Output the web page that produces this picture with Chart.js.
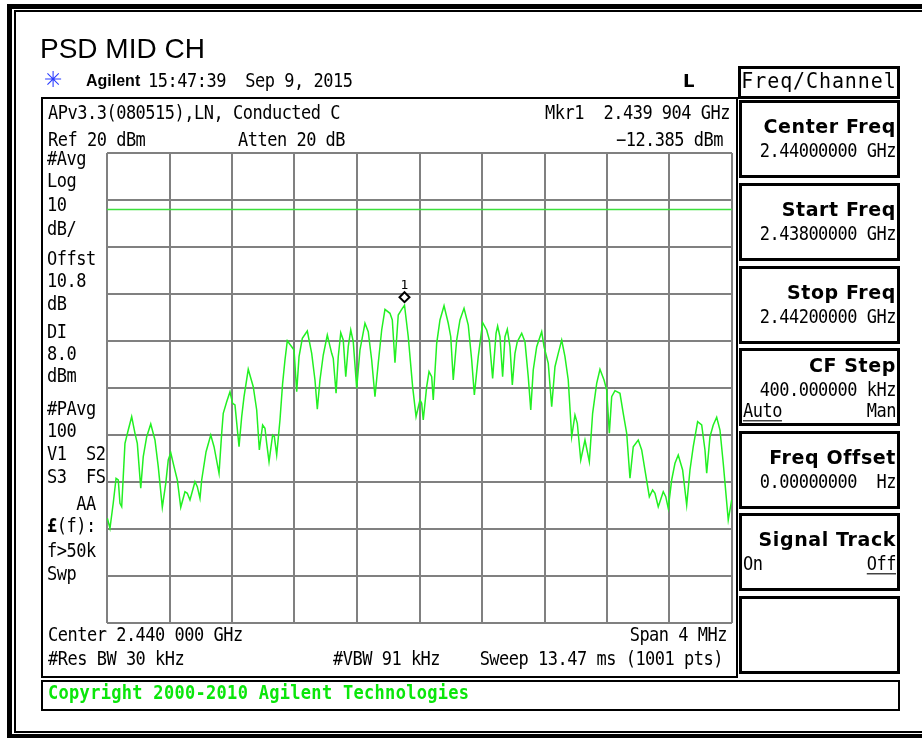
<!DOCTYPE html>
<html>
<head>
<meta charset="utf-8">
<script src="https://cdn.jsdelivr.net/npm/chart.js@4.4.0/dist/chart.umd.min.js"></script>
<style>
  body { margin: 0; width: 922px; height: 738px; background: #fff; overflow: hidden; position: relative; }
  .bar { position: absolute; background: #000; }
  .box { position: absolute; box-sizing: border-box; border: 2px solid #000; }
  .key { border-width: 3px; }
  .t { position: absolute; white-space: pre; line-height: 1; }
  .mono { font-family: "DejaVu Sans Mono", monospace; font-size: 17px; letter-spacing: -0.5px;
          transform: scaleY(1.1); transform-origin: 0 14.4px; }
  .kt { font-family: "DejaVu Sans", sans-serif; font-weight: bold; font-size: 19px; letter-spacing: 0.6px; }
  #c { position: absolute; left: 0; top: 0; }
</style>
</head>
<body>
<div class="bar" style="left:7px;top:4px;width:915px;height:5px"></div>
<div class="bar" style="left:7px;top:4px;width:5px;height:734px"></div>
<div class="bar" style="left:7px;top:734px;width:915px;height:4px"></div>
<div class="bar" style="left:14px;top:10px;width:908px;height:2px"></div>
<div class="bar" style="left:14px;top:10px;width:2px;height:721px"></div>
<div class="bar" style="left:14px;top:731px;width:908px;height:2px"></div>

<div class="box" style="left:41px;top:97px;width:697px;height:581px"></div>
<div class="box" style="left:41px;top:680px;width:859px;height:31px"></div>
<div class="box key" style="left:738px;top:66px;width:162px;height:33px"></div>
<div id="keys"></div>

<canvas id="c" width="922" height="738"></canvas>
<div id="labels"></div>

<script>
// trace: frequency (MHz) and level (dBm)
const freqMHz = [2438.002, 2438.019, 2438.040, 2438.058, 2438.072, 2438.083, 2438.094, 2438.104, 2438.115, 2438.136,
  2438.158, 2438.179, 2438.194, 2438.216, 2438.232, 2438.254, 2438.280, 2438.307, 2438.328, 2438.354,
  2438.376, 2438.392, 2438.408, 2438.429, 2438.450, 2438.472, 2438.499, 2438.514, 2438.531, 2438.563,
  2438.578, 2438.595, 2438.606, 2438.634, 2438.664, 2438.685, 2438.717, 2438.734, 2438.744, 2438.766,
  2438.787, 2438.804, 2438.819, 2438.845, 2438.862, 2438.877, 2438.904, 2438.936, 2438.958, 2438.975,
  2438.996, 2439.011, 2439.022, 2439.037, 2439.060, 2439.071, 2439.086, 2439.107, 2439.124, 2439.139,
  2439.154, 2439.182, 2439.197, 2439.214, 2439.229, 2439.250, 2439.282, 2439.310, 2439.331, 2439.346,
  2439.363, 2439.384, 2439.410, 2439.438, 2439.448, 2439.466, 2439.480, 2439.496, 2439.512, 2439.528,
  2439.544, 2439.560, 2439.576, 2439.598, 2439.619, 2439.651, 2439.672, 2439.694, 2439.715, 2439.736,
  2439.758, 2439.779, 2439.811, 2439.826, 2439.843, 2439.864, 2439.886, 2439.904, 2439.928, 2439.956,
  2439.978, 2440.003, 2440.014, 2440.024, 2440.046, 2440.061, 2440.078, 2440.088, 2440.110, 2440.131,
  2440.157, 2440.184, 2440.200, 2440.216, 2440.238, 2440.259, 2440.285, 2440.312, 2440.334, 2440.351,
  2440.376, 2440.404, 2440.430, 2440.447, 2440.468, 2440.490, 2440.500, 2440.515, 2440.532, 2440.547,
  2440.562, 2440.579, 2440.594, 2440.611, 2440.626, 2440.654, 2440.675, 2440.696, 2440.712, 2440.728,
  2440.750, 2440.782, 2440.797, 2440.824, 2440.846, 2440.867, 2440.888, 2440.910, 2440.931, 2440.952,
  2440.974, 2440.995, 2441.010, 2441.032, 2441.059, 2441.087, 2441.108, 2441.134, 2441.155, 2441.181,
  2441.198, 2441.215, 2441.230, 2441.251, 2441.283, 2441.304, 2441.326, 2441.347, 2441.368, 2441.400,
  2441.422, 2441.443, 2441.471, 2441.492, 2441.507, 2441.528, 2441.560, 2441.576, 2441.592, 2441.614,
  2441.635, 2441.656, 2441.684, 2441.710, 2441.731, 2441.752, 2441.780, 2441.806, 2441.827, 2441.838,
  2441.859, 2441.880, 2441.902, 2441.923, 2441.944, 2441.976, 2441.998];
const levelDbm = [-57.72, -59.85, -54.47, -49.21, -49.57, -54.53, -55.26, -48.87, -41.77, -38.94,
  -36.11, -39.64, -41.77, -51.34, -44.62, -40.36, -37.66, -41.06, -46.74, -55.38,
  -50.28, -45.32, -43.77, -46.74, -49.57, -55.38, -52.06, -52.40, -53.83, -49.94,
  -51.00, -53.47, -49.57, -43.55, -40.00, -42.49, -48.15, -39.64, -35.38, -32.91,
  -30.79, -33.26, -33.62, -42.49, -36.11, -31.85, -26.02, -29.72, -34.68, -43.19,
  -37.87, -38.57, -41.77, -45.68, -40.00, -40.36, -44.26, -36.81, -29.00, -24.04,
  -19.94, -21.21, -21.91, -30.79, -23.34, -19.43, -17.87, -22.62, -28.30, -34.53,
  -28.30, -22.98, -18.72, -22.62, -23.68, -31.13, -23.34, -18.23, -19.79, -27.60,
  -21.21, -17.66, -20.15, -30.06, -21.91, -16.23, -18.02, -24.04, -31.85, -24.74,
  -17.66, -13.26, -14.11, -15.53, -24.62, -14.47, -13.26, -12.39, -19.09, -29.72,
  -36.11, -32.55, -33.26, -36.81, -29.72, -26.53, -27.60, -32.55, -20.49, -15.53,
  -12.50, -16.23, -19.09, -28.30, -19.79, -15.53, -13.04, -16.60, -24.04, -31.49,
  -23.34, -16.11, -17.66, -19.79, -27.94, -18.36, -16.81, -19.09, -27.60, -19.09,
  -17.51, -21.21, -29.36, -22.62, -20.15, -18.36, -20.15, -27.60, -34.68, -26.17,
  -21.21, -18.02, -21.21, -24.74, -33.98, -25.47, -22.62, -19.79, -23.34, -28.30,
  -40.36, -35.74, -37.51, -45.32, -41.06, -45.68, -35.38, -29.00, -26.02, -28.30,
  -30.43, -39.64, -31.85, -30.57, -31.13, -35.38, -39.64, -49.21, -42.49, -41.06,
  -43.19, -47.45, -53.13, -51.70, -52.40, -55.26, -52.06, -53.13, -55.60, -49.57,
  -46.02, -44.26, -47.45, -54.89, -47.45, -42.49, -37.17, -37.87, -43.19, -48.15,
  -40.36, -37.87, -36.23, -38.94, -46.02, -58.09, -53.83];

const xTicks = [2438, 2438.4, 2438.8, 2439.2, 2439.6, 2440, 2440.4, 2440.8, 2441.2, 2441.6, 2442];
const yTicks = [20, 10, 0, -10, -20, -30, -40, -50, -60, -70, -80];
const displayLine = 8.0;
const markerFreq = 2439.904;
const markerLevel = -12.385;

const MONO = '"DejaVu Sans Mono", monospace';

function txt(str, x, base, opt = {}) {
  const size = opt.size || 17;
  const d = document.createElement("div");
  d.className = "t " + (opt.cls || "mono");
  if (opt.html) d.innerHTML = str; else d.textContent = str;
  d.style.top = (base - 0.846 * size) + "px";
  if (opt.align === "right") d.style.right = (922 - x) + "px";
  else if (opt.align === "center") { d.style.left = (x - 100) + "px"; d.style.width = "200px"; d.style.textAlign = "center"; }
  else d.style.left = x + "px";
  if (opt.style) d.style.cssText += opt.style;
  document.getElementById("labels").appendChild(d);
}

// header
txt("PSD MID CH", 40, 59, { size: 28, cls: "plain", style: "font-family:'Liberation Sans',Arial;font-size:28px;" });
txt("\u2733", 44, 88, { size: 22, cls: "plain", style: "font-family:'DejaVu Sans';font-size:22px;color:#2a3cff;" });
txt("Agilent", 86, 87, { size: 16, cls: "plain", style: "font-family:'Liberation Sans',Arial;font-weight:bold;font-size:16px;" });
txt("15:47:39  Sep 9, 2015", 148, 87);
txt("L", 683, 87, { size: 18, cls: "plain", style: "font-family:'DejaVu Sans';font-weight:bold;font-size:18px;" });
txt("Freq/Channel", 819, 88, { size: 20, align: "center", style: "font-size:20px;letter-spacing:0.9px;transform-origin:0 17px;" });

// analyzer annotations
txt("APv3.3(080515),LN, Conducted C", 48, 119);
txt("Ref 20 dBm", 48, 146);
txt("Atten 20 dB", 238, 146);
txt("Mkr1  2.439 904 GHz", 730, 119, { align: "right" });
txt("\u221212.385 dBm", 723, 146, { align: "right" });

const sideText = ["#Avg", "Log", "10", "dB/", "Offst", "10.8", "dB", "DI", "8.0", "dBm",
  "#PAvg", "100", "V1  S2", "S3  FS", "   AA", "<b>\u00a3</b>(f):", "f&gt;50k", "Swp"];
const sideBase = [165, 187, 211, 235, 265, 287, 310, 338, 360, 382, 415, 437, 460, 483, 510, 532, 557, 580];
sideText.forEach((s, i) => txt(s, 47, sideBase[i], { html: true }));

txt("Center 2.440 000 GHz", 48, 641);
txt("Span 4 MHz", 727, 641, { align: "right" });
txt("#Res BW 30 kHz", 48, 665);
txt("#VBW 91 kHz", 333, 665);
txt("Sweep 13.47 ms (1001 pts)", 723, 665, { align: "right" });
txt("Copyright 2000-2010 Agilent Technologies", 48, 699, { style: "font-weight:bold;color:#0ae60a;letter-spacing:0.3px;" });

// softkeys
const keyTops = [100, 183, 266, 348, 431, 513, 596];
keyTops.forEach(t => {
  const b = document.createElement("div");
  b.className = "box key";
  b.style.cssText = "left:739px;top:" + t + "px;width:161px;height:78px";
  document.getElementById("keys").appendChild(b);
});
const keyTitles = ["Center Freq", "Start Freq", "Stop Freq", "CF Step", "Freq Offset", "Signal Track"];
const keyValues = ["2.44000000 GHz", "2.43800000 GHz", "2.44200000 GHz", "400.000000 kHz", "0.00000000  Hz", ""];
keyTitles.forEach((s, i) => {
  const t = keyTops[i];
  const up = i === 3 ? 9 : 0;
  txt(s, 896, t + 33 - up, { align: "right", cls: "kt", size: 19 });
  if (keyValues[i]) txt(keyValues[i], 896, t + 57 - up, { align: "right" });
});
txt("Auto", 743, 417, { style: "text-decoration:underline;text-underline-offset:3px;" });
txt("Man", 896, 417, { align: "right" });
txt("On", 743, 570);
txt("Off", 896, 570, { align: "right", style: "text-decoration:underline;text-underline-offset:3px;" });

const markerPlugin = {
  id: "marker",
  afterDatasetsDraw(chart) {
    const { ctx, scales } = chart;
    const px = scales.x.getPixelForValue(markerFreq);
    const py = scales.y.getPixelForValue(markerLevel) - 8;
    ctx.save();
    ctx.beginPath();
    ctx.moveTo(px, py - 5);
    ctx.lineTo(px + 5, py);
    ctx.lineTo(px, py + 5);
    ctx.lineTo(px - 5, py);
    ctx.closePath();
    ctx.fillStyle = "#fff";
    ctx.fill();
    ctx.lineWidth = 2;
    ctx.strokeStyle = "#000";
    ctx.stroke();
    ctx.fillStyle = "#000";
    ctx.font = "13px " + MONO;
    ctx.textAlign = "center";
    ctx.textBaseline = "alphabetic";
    ctx.fillText("1", px, py - 8);
    ctx.restore();
  }
};

new Chart(document.getElementById("c"), {
  type: "line",
  data: {
    datasets: [
      {
        data: freqMHz.map((f, i) => ({ x: f, y: levelDbm[i] })),
        borderColor: "#22f022",
        borderWidth: 1.5,
        pointRadius: 0,
        tension: 0,
      },
      {
        data: [{ x: xTicks[0], y: displayLine }, { x: xTicks[xTicks.length - 1], y: displayLine }],
        borderColor: "#3ce03c",
        borderWidth: 1.5,
        pointRadius: 0,
      },
    ],
  },
  options: {
    responsive: false,
    animation: false,
    layout: { padding: { left: 107, top: 153, right: 190, bottom: 115 } },
    plugins: { legend: { display: false }, tooltip: { enabled: false } },
    scales: {
      x: {
        type: "linear",
        min: xTicks[0],
        max: xTicks[xTicks.length - 1],
        afterBuildTicks: (s) => { s.ticks = xTicks.map(v => ({ value: v })); },
        ticks: { display: false },
        grid: { color: "#808080", lineWidth: 2, drawTicks: false },
        border: { display: false },
      },
      y: {
        min: -80,
        max: 20,
        afterBuildTicks: (s) => { s.ticks = yTicks.map(v => ({ value: v })); },
        ticks: { display: false },
        grid: { color: "#808080", lineWidth: 2, drawTicks: false },
        border: { display: false },
      },
    },
  },
  plugins: [markerPlugin],
});
</script>
</body>
</html>
